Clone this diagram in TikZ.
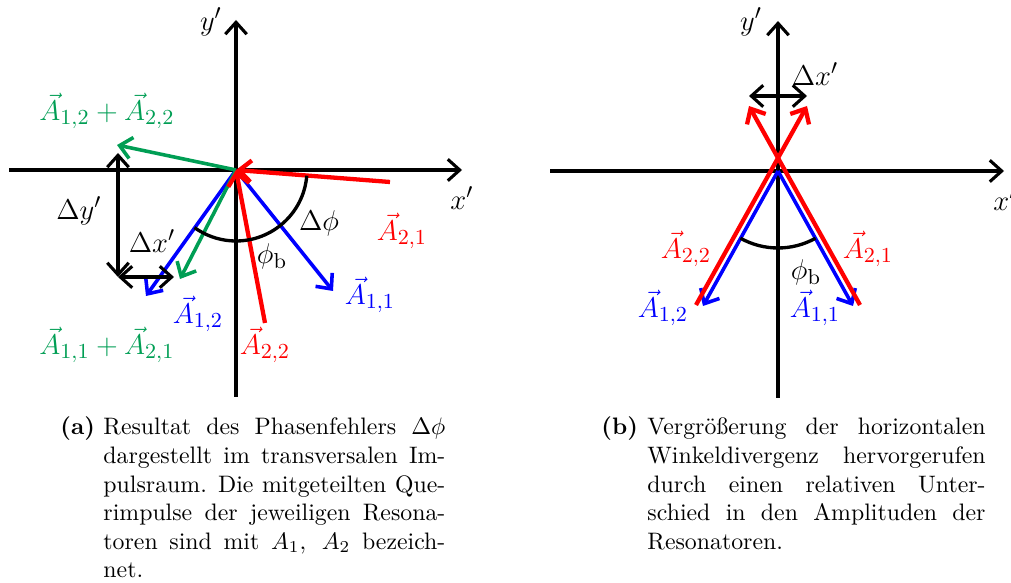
\documentclass[tikz,border=0pt]{standalone}
\usepackage{fontspec}
\usepackage{amsmath}
\usetikzlibrary{arrows.meta}
\definecolor{grn}{RGB}{0,158,84}

\begin{document}
\begin{tikzpicture}[x=0.42pt, y=-0.42pt, >={Straight Barb[length=5pt,width=9pt]},
    achse/.style={line width=1.3pt, ->},
    pfeil/.style={line width=1.5pt, ->},
    rpfeil/.style={line width=1.8pt, red, ->},
    lbl/.style={font=\fontsize{13}{15}\selectfont, inner sep=1pt},
    capt/.style={anchor=base west, inner sep=0, execute at begin node={\spaceskip=3.33pt plus 6pt minus 1pt\xspaceskip=4.4pt plus 6pt minus 1pt}}]
\useasboundingbox (0,0) rectangle (1011,583);

% (a) Phasenfehler im Impulsraum
\coordinate (O1) at (236,170);
\coordinate (xa1) at (9,170);
\coordinate (xb1) at (462,170);
\coordinate (ya1) at (236,397);
\coordinate (yb1) at (236,20);
\draw[achse] (xa1) -- (xb1);
\draw[achse] (ya1) -- (yb1);
\node[lbl] (yl1) at (211,22) {$y'$};
\node[lbl] (xl1) at (462,198) {$x'$};

\coordinate (A11) at (333,291);
\coordinate (A12) at (146,296);
\coordinate (A21) at (390,182);
\coordinate (A22) at (265,323);
\coordinate (S21) at (180,279);
\coordinate (S22) at (117,145);
\draw[pfeil, blue] (O1) -- (A11);
\draw[pfeil, blue] (O1) -- (A12);
\draw[pfeil, grn] (O1) -- (S21);
\draw[pfeil, grn] (O1) -- (S22);
\draw[rpfeil] (A21) -- (O1);
\draw[rpfeil] (A22) -- (O1);
\draw[line width=1.4pt] ([shift={(4.6:71)}]O1) arc[start angle=4.6, end angle=125.8, radius=71];

% Delta x', Delta y'
\coordinate (dyo) at (118,153);
\coordinate (dyu) at (118,277);
\coordinate (dxr) at (174,277);
\draw[line width=1.3pt, <->] (dyo) -- (dyu);
\draw[line width=1.3pt, <->] (dyu) -- (dxr);

\node[lbl] (dyl) at (79,211) {$\Delta y'$};
\node[lbl] (dxl) at (152,241) {$\Delta x'$};
\node[lbl] (dphi) at (319,223) {$\Delta\phi$};
\node[lbl] (phib1) at (272,256) {$\phi_\mathrm{b}$};
\node[lbl, red] (lA21) at (402,231) {$\vec{A}_{2,1}$};
\node[lbl, blue] (lA11) at (370,295) {$\vec{A}_{1,1}$};
\node[lbl, blue] (lA12) at (198,314) {$\vec{A}_{1,2}$};
\node[lbl, red] (lA22) at (265,345) {$\vec{A}_{2,2}$};
\node[lbl, grn] (lS22) at (107,111) {$\vec{A}_{1,2}+\vec{A}_{2,2}$};
\node[lbl, grn] (lS21) at (107,345) {$\vec{A}_{1,1}+\vec{A}_{2,1}$};

% (b) Winkeldivergenz
\coordinate (O2) at (778,171);
\coordinate (xa2) at (550,171);
\coordinate (xb2) at (1004,171);
\coordinate (ya2) at (778,398);
\coordinate (yb2) at (778,21);
\draw[achse] (xa2) -- (xb2);
\draw[achse] (ya2) -- (yb2);
\node[lbl] (yl2) at (751,22) {$y'$};
\node[lbl] (xl2) at (1005,199) {$x'$};

\coordinate (B11) at (853,306);
\coordinate (B12) at (703,306);
\coordinate (R1s) at (696,305);
\coordinate (R1e) at (807,106);
\coordinate (R2s) at (860,305);
\coordinate (R2e) at (749,106);
\draw[pfeil, blue] (O2) -- (B11);
\draw[pfeil, blue] (O2) -- (B12);
\draw[rpfeil] (R1s) -- (R1e);
\draw[rpfeil] (R2s) -- (R2e);
\draw[line width=1.4pt] ([shift={(60.8:77)}]O2) arc[start angle=60.8, end angle=119.2, radius=77];

\coordinate (dxl2) at (749,96);
\coordinate (dxr2) at (807,96);
\draw[line width=1.3pt, <->] (dxl2) -- (dxr2);

\node[lbl] (dxlab2) at (815,74) {$\Delta x'$};
\node[lbl, red] (lB22) at (686,249) {$\vec{A}_{2,2}$};
\node[lbl, red] (lB21) at (868,249) {$\vec{A}_{2,1}$};
\node[lbl] (phib2) at (806,272) {$\phi_\mathrm{b}$};
\node[lbl, blue] (lB12) at (663,308) {$\vec{A}_{1,2}$};
\node[lbl, blue] (lB11) at (815,308) {$\vec{A}_{1,1}$};

% Unterschriften
\node[anchor=base west, inner sep=0] (capa) at (60,435) {\textbf{(a)}};
\node[capt, text width=143.6pt] (texta) at (103,435) {%
\hbox to 143.6pt{Resultat des Phasenfehlers $\Delta\phi$}
\hbox to 143.6pt{dargestellt im transversalen Im-}
\hbox to 143.6pt{pulsraum. Die mitgeteilten Que-}
\hbox to 143.6pt{rimpulse der jeweiligen Resona-}
\hbox to 143.6pt{toren sind mit $A_1,\ A_2$ bezeich-}
\hbox{net.}};
\node[anchor=base west, inner sep=0] (capb) at (601,435) {\textbf{(b)}};
\node[capt, text width=142pt] (textb) at (647,435) {%
\hbox to 142pt{Vergrößerung der horizontalen}
\hbox to 142pt{Winkeldivergenz hervorgerufen}
\hbox to 142pt{durch einen relativen Unter-}
\hbox to 142pt{schied in den Amplituden der}
\hbox{Resonatoren.}};
\end{tikzpicture}
\end{document}
